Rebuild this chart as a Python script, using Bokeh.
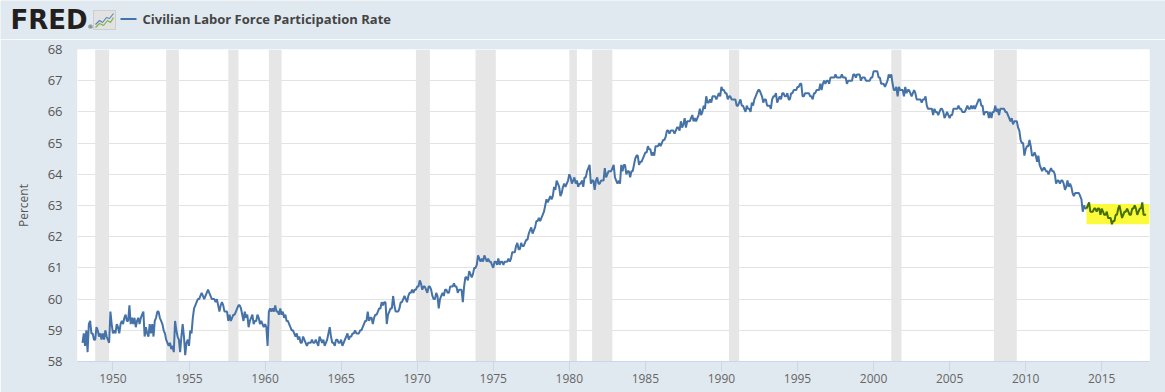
import pandas as pd
from bokeh.plotting import figure
from bokeh.layouts import column
from bokeh.models import ColumnDataSource, FixedTicker, Range1d
from bokeh.core.properties import value
from bokeh.embed import file_html
from bokeh.resources import INLINE

# ---------------- data (monthly, Civilian Labor Force Participation Rate, %) ----------------
series_name = "Civilian Labor Force Participation Rate"
logo_text = "FRED"
first_month = "1948-01-01"

lfpr_1940s = [  # 1948-1949
    58.6, 58.9, 58.5, 59.0, 58.3, 59.2, 59.3, 58.9, 58.9, 58.7, 58.7, 59.1,
    59.0, 58.8, 58.9, 58.7, 58.9, 58.7, 59.0, 58.8, 58.7, 58.6, 59.6, 59.2,
]
lfpr_1950s = [
    58.9, 59.0, 58.9, 59.2, 59.1, 58.9, 59.2, 59.3, 59.2, 59.4, 59.5, 59.3,
    59.3, 59.8, 59.2, 59.4, 59.2, 59.4, 59.1, 59.3, 59.4, 59.2, 59.4, 59.5,
    59.6, 58.8, 59.1, 58.9, 58.8, 59.2, 58.9, 59.2, 58.8, 59.3, 59.4, 59.6,
    59.6, 59.4, 59.3, 59.2, 59.0, 58.9, 58.7, 58.6, 58.5, 58.6, 58.4, 58.5,
    58.3, 59.3, 59.0, 58.8, 58.7, 58.3, 58.8, 59.2, 58.8, 58.2, 58.6, 58.7,
    58.5, 59.0, 58.9, 59.4, 59.7, 59.8, 59.9, 60.0, 60.0, 60.1, 60.2, 60.1,
    60.0, 60.1, 60.2, 60.3, 60.2, 60.1, 60.0, 60.0, 60.0, 59.9, 60.0, 59.8,
    59.6, 59.8, 59.9, 59.8, 59.6, 59.6, 59.6, 59.3, 59.5, 59.3, 59.4, 59.5,
    59.5, 59.6, 59.7, 59.8, 59.8, 59.7, 59.5, 59.3, 59.6, 59.4, 59.5, 59.1,
    59.3, 59.4, 59.5, 59.2, 59.3, 59.3, 59.5, 59.4, 59.2, 59.3, 59.2, 59.1,
]
lfpr_1960s = [
    59.2, 59.1, 58.5, 59.6, 59.7, 59.6, 59.7, 59.6, 59.8, 59.6, 59.6, 59.5,
    59.7, 59.5, 59.6, 59.4, 59.5, 59.3, 59.3, 59.2, 59.1, 59.0, 59.0, 58.9,
    58.8, 58.9, 58.7, 58.8, 58.6, 58.6, 58.8, 58.7, 58.6, 58.5, 58.6, 58.6,
    58.6, 58.7, 58.6, 58.6, 58.7, 58.6, 58.5, 58.8, 58.7, 58.6, 58.7, 58.5,
    58.6, 58.7, 58.9, 59.1, 58.8, 58.6, 58.6, 58.5, 58.7, 58.7, 58.6, 58.6,
    58.7, 58.5, 58.6, 58.7, 58.8, 58.9, 58.7, 58.8, 58.8, 58.9, 58.9, 59.0,
    58.9, 58.9, 58.9, 59.0, 59.0, 59.1, 59.2, 59.3, 59.3, 59.6, 59.3, 59.4,
    59.4, 59.2, 59.4, 59.5, 59.5, 59.6, 59.7, 59.7, 59.9, 59.8, 59.9, 59.9,
    59.2, 59.5, 59.6, 59.7, 59.7, 60.1, 59.8, 59.6, 59.6, 59.6, 59.7, 59.9,
    59.9, 60.0, 60.1, 60.0, 59.9, 60.1, 60.2, 60.2, 60.3, 60.2, 60.3, 60.3,
]
lfpr_1970s = [
    60.4, 60.4, 60.6, 60.5, 60.3, 60.4, 60.4, 60.3, 60.2, 60.4, 60.4, 60.3,
    60.1, 60.0, 60.0, 60.2, 60.1, 59.7, 60.0, 60.1, 60.2, 60.1, 60.3, 60.3,
    60.2, 60.2, 60.4, 60.4, 60.4, 60.5, 60.4, 60.4, 60.2, 60.3, 60.3, 60.3,
    59.9, 60.4, 60.7, 60.7, 60.6, 60.9, 60.8, 60.7, 60.8, 61.0, 61.0, 61.1,
    61.4, 61.3, 61.2, 61.3, 61.2, 61.4, 61.3, 61.2, 61.3, 61.2, 61.2, 61.1,
    61.0, 61.2, 61.2, 61.1, 61.3, 61.1, 61.2, 61.2, 61.1, 61.2, 61.2, 61.2,
    61.3, 61.2, 61.3, 61.5, 61.5, 61.5, 61.7, 61.8, 61.6, 61.6, 61.8, 61.7,
    61.7, 61.8, 61.9, 61.9, 62.1, 62.2, 62.3, 62.1, 62.2, 62.3, 62.5, 62.5,
    62.6, 62.5, 62.6, 62.7, 62.8, 63.0, 63.2, 63.1, 63.2, 63.3, 63.2, 63.3,
    63.6, 63.5, 63.8, 63.7, 63.6, 63.3, 63.4, 63.6, 63.7, 63.6, 63.7, 63.8,
]
lfpr_1980s = [
    64.0, 63.9, 63.7, 63.8, 63.9, 63.7, 63.8, 63.6, 63.7, 63.7, 63.8, 63.6,
    63.9, 63.9, 64.1, 64.2, 64.3, 63.7, 63.8, 63.8, 63.5, 63.8, 63.9, 63.7,
    63.7, 63.8, 63.8, 63.8, 64.2, 63.9, 64.0, 64.1, 64.1, 64.1, 64.2, 64.3,
    63.9, 63.8, 63.7, 63.8, 63.7, 64.3, 64.1, 64.3, 64.3, 64.0, 64.1, 64.1,
    63.9, 64.1, 64.1, 64.3, 64.5, 64.6, 64.6, 64.3, 64.4, 64.4, 64.5, 64.6,
    64.7, 64.7, 64.9, 64.8, 64.8, 64.6, 64.7, 64.6, 64.9, 64.9, 64.9, 65.0,
    64.9, 65.0, 65.1, 65.1, 65.2, 65.4, 65.4, 65.3, 65.4, 65.4, 65.4, 65.3,
    65.4, 65.5, 65.5, 65.4, 65.7, 65.5, 65.6, 65.8, 65.5, 65.7, 65.7, 65.7,
    65.8, 65.9, 65.7, 65.8, 65.7, 65.8, 65.9, 66.1, 65.9, 66.0, 66.2, 66.1,
    66.5, 66.3, 66.3, 66.4, 66.3, 66.5, 66.5, 66.5, 66.4, 66.5, 66.6, 66.5,
]
lfpr_1990s = [
    66.8, 66.7, 66.7, 66.6, 66.6, 66.4, 66.5, 66.5, 66.4, 66.4, 66.4, 66.4,
    66.2, 66.2, 66.3, 66.4, 66.2, 66.2, 66.1, 66.0, 66.2, 66.1, 66.1, 66.0,
    66.3, 66.2, 66.4, 66.5, 66.6, 66.7, 66.7, 66.6, 66.5, 66.3, 66.4, 66.4,
    66.2, 66.2, 66.2, 66.1, 66.4, 66.5, 66.5, 66.6, 66.3, 66.4, 66.5, 66.4,
    66.6, 66.6, 66.5, 66.5, 66.6, 66.4, 66.4, 66.6, 66.6, 66.7, 66.7, 66.7,
    66.8, 66.8, 66.9, 66.9, 66.5, 66.5, 66.6, 66.6, 66.6, 66.6, 66.5, 66.5,
    66.4, 66.6, 66.6, 66.7, 66.7, 66.7, 66.9, 66.7, 66.9, 67.0, 66.9, 67.0,
    67.0, 66.9, 67.1, 67.1, 67.1, 67.1, 67.2, 67.1, 67.1, 67.1, 67.1, 67.2,
    67.1, 67.1, 67.1, 66.9, 67.0, 67.0, 67.0, 67.0, 67.2, 67.2, 67.1, 67.2,
    67.2, 67.2, 67.0, 67.1, 67.1, 67.1, 67.0, 67.0, 67.0, 67.0, 67.1, 67.1,
]
lfpr_2000s = [
    67.3, 67.3, 67.3, 67.3, 67.1, 67.1, 66.9, 66.9, 66.9, 66.8, 66.9, 67.0,
    67.2, 67.1, 67.2, 66.9, 66.7, 66.7, 66.8, 66.5, 66.8, 66.7, 66.7, 66.7,
    66.5, 66.8, 66.6, 66.7, 66.7, 66.6, 66.5, 66.6, 66.7, 66.6, 66.4, 66.4,
    66.4, 66.4, 66.3, 66.4, 66.4, 66.5, 66.2, 66.1, 66.1, 66.1, 66.1, 65.9,
    66.1, 66.0, 66.0, 65.9, 66.0, 66.1, 66.1, 66.0, 65.8, 65.9, 66.0, 65.9,
    65.8, 65.9, 65.9, 66.1, 66.1, 66.1, 66.1, 66.2, 66.1, 66.1, 66.0, 66.0,
    66.0, 66.1, 66.2, 66.1, 66.1, 66.2, 66.1, 66.2, 66.1, 66.2, 66.3, 66.4,
    66.4, 66.2, 66.2, 65.9, 66.0, 66.0, 66.0, 65.8, 66.0, 65.8, 66.0, 66.0,
    66.2, 66.0, 66.1, 65.9, 66.1, 66.1, 66.1, 66.1, 66.0, 66.0, 65.9, 65.8,
    65.7, 65.8, 65.6, 65.7, 65.7, 65.7, 65.5, 65.4, 65.1, 65.0, 65.0, 64.6,
]
lfpr_2010s = [  # 2010-2017
    64.8, 64.9, 64.9, 65.1, 64.9, 64.6, 64.6, 64.7, 64.6, 64.4, 64.6, 64.3,
    64.2, 64.1, 64.2, 64.2, 64.1, 64.1, 64.0, 64.1, 64.2, 64.1, 64.1, 64.0,
    63.7, 63.8, 63.8, 63.7, 63.8, 63.8, 63.7, 63.5, 63.6, 63.8, 63.6, 63.7,
    63.6, 63.4, 63.3, 63.4, 63.4, 63.4, 63.4, 63.3, 63.2, 62.8, 63.0, 62.9,
    62.9, 63.0, 63.1, 62.8, 62.8, 62.8, 62.9, 62.9, 62.8, 62.9, 62.9, 62.7,
    62.9, 62.8, 62.7, 62.7, 62.8, 62.6, 62.6, 62.6, 62.4, 62.5, 62.5, 62.7,
    62.7, 62.9, 63.0, 62.8, 62.6, 62.7, 62.8, 62.8, 62.9, 62.8, 62.7, 62.7,
    62.9, 62.9, 63.0, 62.9, 62.7, 62.8, 62.9, 62.9, 63.1, 62.7, 62.7, 62.7,
]

# NBER recessions (peak month, trough month)
recession_start = ["1948-11", "1953-07", "1957-08", "1960-04", "1969-12", "1973-11",
                   "1980-01", "1981-07", "1990-07", "2001-03", "2007-12"]
recession_end = ["1949-10", "1954-05", "1958-04", "1961-02", "1970-11", "1975-03",
                 "1980-07", "1982-11", "1991-03", "2001-11", "2009-06"]

highlight_start = "2014-01"
highlight_low, highlight_high = 62.4, 63.05

x_ticks = [1950, 1955, 1960, 1965, 1970, 1975, 1980, 1985, 1990, 1995, 2000, 2005, 2010, 2015]
y_ticks = [58, 59, 60, 61, 62, 63, 64, 65, 66, 67, 68]
x_lo, x_hi = 1947.67, 2018.14
y_lo, y_hi = 58, 68


def dec_year(ts):
    ts = pd.Timestamp(ts)
    return ts.year + (ts.month - 1) / 12.0


values = lfpr_1940s + lfpr_1950s + lfpr_1960s + lfpr_1970s + lfpr_1980s + lfpr_1990s + lfpr_2000s + lfpr_2010s
dates = pd.date_range(first_month, periods=len(values), freq="MS")
xs = [d.year + (d.month - 1) / 12.0 for d in dates]
df = pd.DataFrame({"x": xs, "y": values})

hx = dec_year(highlight_start)
blue = ColumnDataSource(df[df.x <= hx + 1e-9])
green = ColumnDataSource(df[df.x >= hx - 1e-9])

rec = ColumnDataSource(dict(left=[dec_year(s) for s in recession_start],
                            right=[dec_year(e) for e in recession_end]))

FONT = "Open Sans"
BG = "#e1e9f0"
LINE = "#4572a7"
W, H_HEAD, H_MAIN = 1165, 39, 353


def no_frame_align(fig):
    if "frame_align" in fig.properties():
        fig.frame_align = False


# ---------------- header strip (pixel coordinates, y downward) ----------------
hd = figure(width=W, height=H_HEAD, output_backend="svg", toolbar_location=None,
            x_range=Range1d(0, W), y_range=Range1d(H_HEAD, 0),
            min_border=0, min_border_left=0, min_border_right=0, min_border_top=0, min_border_bottom=0,
            background_fill_color=BG, border_fill_color=BG,
            outline_line_color=None, x_axis_type=None, y_axis_type=None)
hd.grid.visible = False
no_frame_align(hd)
hd.text(x=[10], y=[19.5], text=[logo_text], text_font=value("DejaVu Sans"),
        text_font_style="bold", text_font_size="26px", text_color="#231f20",
        text_baseline="middle")
hd.text(x=[87], y=[26], text=["®"], text_font=value("DejaVu Sans"),
        text_font_size="6px", text_color="#231f20", text_baseline="middle")
# small logo chart icon
hd.quad(left=[93], right=[115], top=[10], bottom=[29], fill_color="#e2e2e2",
        line_color="#cdcdcd", line_width=1)
hd.line(x=[95, 99, 102, 106, 109, 113], y=[24, 20, 22, 17, 18, 13], line_color="#5b86b8", line_width=1.2)
hd.line(x=[95, 99, 103, 107, 110, 113], y=[27, 23, 25, 20, 22, 17], line_color="#7fb24a", line_width=1.2)
# legend sample + series name
hd.line(x=[120, 136], y=[18.5, 18.5], line_color=LINE, line_width=2)
hd.text(x=[142], y=[18.5], text=[series_name], text_font=value(FONT), text_font_style="bold",
        text_font_size="13px", text_color="#444444", text_baseline="middle")

# ---------------- main chart ----------------
p = figure(width=W, height=H_MAIN, output_backend="svg", toolbar_location=None,
           x_range=Range1d(x_lo, x_hi), y_range=Range1d(y_lo, y_hi),
           min_border_left=77, min_border_right=16, min_border_top=10, min_border_bottom=31,
           background_fill_color="white", border_fill_color=BG, outline_line_color=None)
no_frame_align(p)

p.quad(left="left", right="right", bottom=y_lo, top=y_hi, source=rec,
       fill_color="#e6e6e6", line_color=None)
p.quad(left=[hx], right=[x_hi], bottom=[highlight_low], top=[highlight_high],
       fill_color="#fbfb3c", line_color=None)

p.line("x", "y", source=blue, line_color=LINE, line_width=2)
p.line("x", "y", source=green, line_color="#457000", line_width=2)

p.xgrid.visible = False
p.ygrid.grid_line_color = "#e3e3e3"
p.ygrid.grid_line_width = 1
p.ygrid.ticker = FixedTicker(ticks=y_ticks)

ya = p.yaxis[0]
ya.ticker = FixedTicker(ticks=y_ticks)
ya.axis_line_color = None
ya.major_tick_line_color = None
ya.major_tick_in = 0
ya.major_tick_out = 0
ya.minor_tick_line_color = None
ya.minor_tick_out = 0
ya.major_label_standoff = 15
ya.major_label_text_font = FONT
ya.major_label_text_font_size = "13px"
ya.major_label_text_color = "#555555"
ya.axis_label = "Percent"
ya.axis_label_text_font = FONT
ya.axis_label_text_font_style = "normal"
ya.axis_label_text_font_size = "12px"
ya.axis_label_text_color = "#555555"
ya.axis_label_standoff = 13

xa = p.xaxis[0]
xa.ticker = FixedTicker(ticks=x_ticks)
xa.axis_line_color = "#ccd6eb"
xa.major_tick_line_color = "#ccd6eb"
xa.major_tick_in = 0
xa.major_tick_out = 10
xa.minor_tick_line_color = None
xa.major_label_standoff = 2
xa.major_label_text_font = FONT
xa.major_label_text_font_size = "12px"
xa.major_label_text_color = "#666666"

layout = column(hd, p, spacing=0)
open("out.html", "w").write(file_html(layout, INLINE))
